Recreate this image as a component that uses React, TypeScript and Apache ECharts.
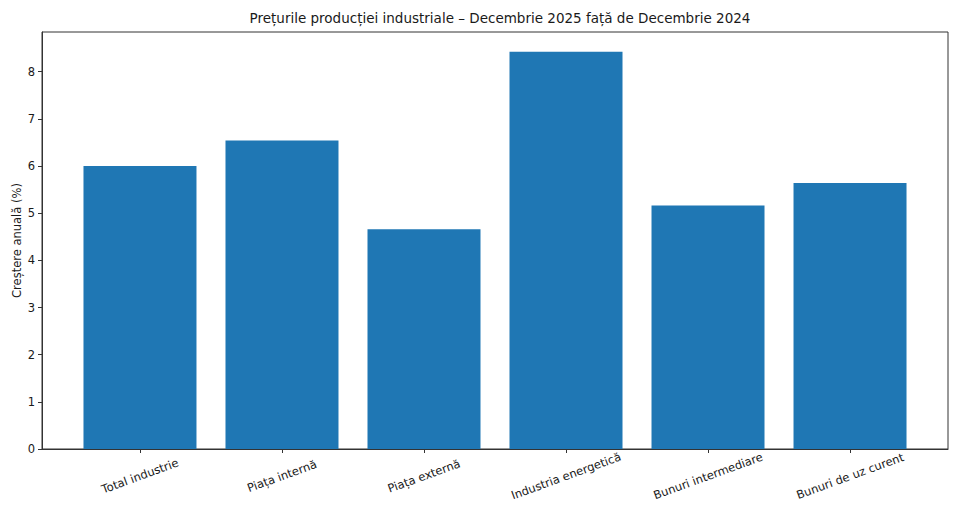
import React, { useEffect, useRef } from "react";
import * as echarts from "echarts";

const categories = [
  "Total industrie",
  "Piața internă",
  "Piața externă",
  "Industria energetică",
  "Bunuri intermediare",
  "Bunuri de uz curent",
];
const values = [6.0, 6.54, 4.66, 8.42, 5.16, 5.64];
const yTicks = [0, 1, 2, 3, 4, 5, 6, 7, 8];
const title = "Prețurile producției industriale – Decembrie 2025 față de Decembrie 2024";
const yName = "Creștere anuală (%)";

export default function App() {
  const ref = useRef<HTMLDivElement>(null);
  useEffect(() => {
    if (!ref.current) return;
    const chart = echarts.init(ref.current, null, { renderer: "svg" });
    const font = "DejaVu Sans";
    const xIdx = categories.map((_, i) => i);
    const n = categories.length;
    const xMin = -0.4 - 0.05 * (n - 1 + 0.8);
    const xMax = n - 1 + 0.4 + 0.05 * (n - 1 + 0.8);
    const yMax = Math.max(...values) * 1.05;
    chart.setOption({
      animation: false,
      backgroundColor: "#ffffff",
      textStyle: { fontFamily: font },
      title: {
        text: title,
        left: 495,
        textAlign: "center",
        top: 6,
        textStyle: { fontFamily: font, fontSize: 13.5, fontWeight: "normal", color: "#1a1a1a" },
      },
      grid: {
        left: 42,
        right: 12,
        top: 32,
        bottom: 75,
        show: true,
        borderColor: "#333",
        borderWidth: 1,
        backgroundColor: "transparent",
        containLabel: false,
        outerBoundsMode: "none",
      },
      xAxis: {
        type: "value",
        min: xMin,
        max: xMax,
        splitLine: { show: false },
        axisLine: { show: true, onZero: false, lineStyle: { color: "#333", width: 1 } },
        axisTick: { show: true, length: 4, customValues: xIdx, lineStyle: { color: "#333" } },
        axisLabel: {
          customValues: xIdx,
          rotate: 20,
          align: "center",
          verticalAlign: "middle",
          margin: 27,
          fontSize: 11.5,
          color: "#1a1a1a",
          fontFamily: font,
          formatter: (v: number) => categories[Math.round(v)] ?? "",
        },
      },
      yAxis: {
        type: "value",
        min: 0,
        max: yMax,
        name: yName,
        nameLocation: "middle",
        nameGap: 19,
        nameMoveOverlap: false,
        nameTextStyle: { fontSize: 11.5, color: "#1a1a1a", fontFamily: font },
        splitLine: { show: false },
        axisLine: { show: true, onZero: false, lineStyle: { color: "#333", width: 1 } },
        axisTick: { show: true, length: 4, customValues: yTicks, lineStyle: { color: "#333" } },
        axisLabel: {
          customValues: yTicks,
          fontSize: 11.5,
          color: "#1a1a1a",
          fontFamily: font,
          margin: 7,
        },
      },
      series: [
        {
          type: "bar",
          data: values.map((v, i) => [i, v]),
          barWidth: 113,
          itemStyle: { color: "#1f77b4" },
        },
      ],
    });
    return () => chart.dispose();
  }, []);
  return (
    <div
      ref={ref}
      style={{ position: "fixed", left: 0, top: 0, width: 960, height: 524 }}
    />
  );
}
